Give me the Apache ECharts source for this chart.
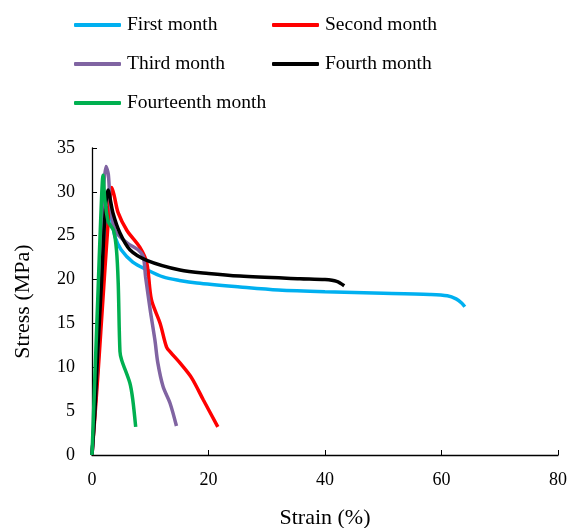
<!DOCTYPE html>
<html><head><meta charset="utf-8">
<script src="https://cdn.jsdelivr.net/npm/echarts@6/dist/echarts.min.js"></script>
<style>html,body{margin:0;padding:0;background:#fff}#c{width:571px;height:528px}</style>
</head><body><div id="c"></div>
<script>
const seriesNames = ['First month','Second month','Third month','Fourth month','Fourteenth month'];
const colors = ['#00B0F0','#FF0000','#8064A2','#000000','#00B050'];
const xTicks = [0,20,40,60,80];
const yTicks = [0,5,10,15,20,25,30,35];
const firstMonth = [[0,0],[1,10],[2,21],[2.8,28.2],[3.3,27],[4,24.8],[5,23.4],[7,22],[9.5,21.1],[12.2,20.3],[15,19.9],[18,19.6],[25.4,19.15],[32,18.8],[40,18.6],[50,18.45],[58,18.3],[61,18.15],[62.5,17.8],[63.5,17.3],[64,16.9]];
const secondMonth = [[0,0],[1,9],[2,19],[3,28.5],[3.4,30.5],[3.8,29.6],[4.5,27.6],[6,25.6],[8.2,23.7],[9.4,21.9],[10.2,17.7],[11.7,15],[12.8,12.3],[13.5,11.7],[15.1,10.5],[17.1,8.8],[19.1,6.3],[21.6,3.2]];
const thirdMonth = [[0,0],[1,12],[1.6,24],[2,30.5],[2.4,32.9],[2.8,32],[3.1,29.1],[3.95,25.6],[6,24.2],[7.9,23.4],[8.8,22.6],[9.2,20.3],[10,16.5],[10.8,13.1],[11.3,10.5],[12.2,7.8],[13.4,5.9],[14.5,3.3]];
const fourthMonth = [[0,0],[0.5,5],[1,12],[1.66,20],[2.2,27],[2.75,30.2],[3.6,27.6],[4.8,25.3],[6.5,23.4],[9.4,22.2],[15.1,21.1],[20,20.7],[25.4,20.4],[35.7,20.1],[40,20],[42,19.8],[43.3,19.3]];
const fourteenthMonth = [[0,0],[0.5,9],[1,18],[1.5,27],[1.9,31.9],[2.2,29.1],[2.8,26.6],[3.7,25.6],[4.2,23.4],[4.5,19.6],[4.8,11.8],[5.1,10.8],[6.5,8.2],[7,6.3],[7.5,3.2]];
const allData = [firstMonth, secondMonth, thirdMonth, fourthMonth, fourteenthMonth];

const legendPos = [[74,15],[272,15],[74,54],[272,54],[74,93]];
const font = 'Liberation Serif, Times New Roman, serif';
const chart = echarts.init(document.getElementById('c'));
chart.setOption({
  animation:false,
  backgroundColor:'#fff',
  legend: seriesNames.map((n,i)=>({
    data:[n], left:legendPos[i][0], top:legendPos[i][1], padding:0, itemWidth:47, itemHeight:4, itemGap:0,
    icon:'roundRect', textStyle:{fontFamily:font,fontSize:19.5,color:'#000',padding:[0,0,0,1]},
    selectedMode:false
  })),
  grid:{left:92,right:13,top:148,bottom:73,containLabel:false,outerBoundsMode:'none'},
  xAxis:{type:'value',min:xTicks[0],max:xTicks[xTicks.length-1],interval:20,
    name:'Strain (%)',nameLocation:'middle',nameGap:52,
    nameTextStyle:{fontFamily:font,fontSize:22,color:'#000'},
    axisLine:{lineStyle:{color:'#000',width:1.3}},
    axisTick:{inside:true,length:5,lineStyle:{color:'#000'}},
    axisLabel:{fontFamily:font,fontSize:18,color:'#000',margin:16},
    splitLine:{show:false}},
  yAxis:{type:'value',min:yTicks[0],max:yTicks[yTicks.length-1],interval:5,
    name:'Stress (MPa)',nameLocation:'middle',nameGap:58,
    nameTextStyle:{fontFamily:font,fontSize:22,color:'#000'},
    axisLine:{show:true,lineStyle:{color:'#000',width:1.3}},
    axisTick:{show:true,inside:true,length:5,lineStyle:{color:'#000'}},
    axisLabel:{fontFamily:font,fontSize:18,color:'#000',margin:17},
    splitLine:{show:false}},
  series: seriesNames.map((n,i)=>({
    name:n,type:'line',data:allData[i],showSymbol:false,smooth:0.3,
    lineStyle:{color:colors[i],width:3.5},itemStyle:{color:colors[i]}
  }))
});
</script></body></html>
